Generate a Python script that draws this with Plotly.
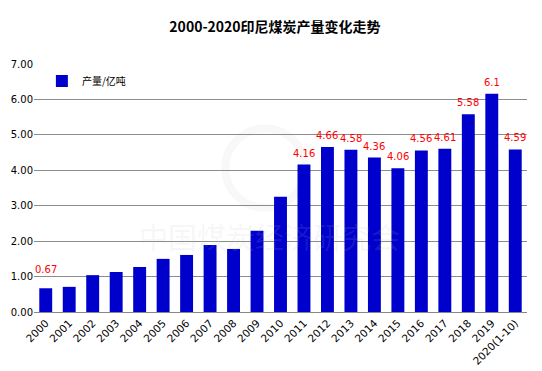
import plotly.graph_objects as go

years = ["2000", "2001", "2002", "2003", "2004", "2005", "2006", "2007", "2008", "2009",
         "2010", "2011", "2012", "2013", "2014", "2015", "2016", "2017", "2018", "2019",
         "2020(1-10)"]
output = [0.67, 0.71, 1.04, 1.13, 1.27, 1.50, 1.61, 1.89, 1.78, 2.29,
          3.25, 4.16, 4.66, 4.58, 4.36, 4.06, 4.56, 4.61, 5.58, 6.16,
          4.59]
labels = ["0.67", "", "", "", "", "", "", "", "", "",
          "", "4.16", "4.66", "4.58", "4.36", "4.06", "4.56", "4.61", "5.58", "6.1",
          "4.59"]
y_ticks = [0, 1, 2, 3, 4, 5, 6, 7]

pos = list(range(len(years)))

fig = go.Figure()
fig.add_trace(go.Bar(
    x=pos, y=output, name="产量/亿吨",
    marker=dict(color="#0000CC", line=dict(width=0)),
))

annotations = []
for i, (v, lab) in enumerate(zip(output, labels)):
    if lab:
        annotations.append(dict(
            x=pos[i], y=v, xref="x", yref="y", text=lab, showarrow=False,
            yanchor="bottom", yshift=4 if i > 0 else 11,
            font=dict(family="DejaVu Sans", size=10, color="#FF0000"),
        ))

# watermark
annotations.append(dict(
    x=0.477, y=0.306, xref="paper", yref="paper", xanchor="center", yanchor="middle",
    text="中国煤炭经济研究会", showarrow=False,
    font=dict(family="Noto Sans CJK SC", size=29, color="rgba(190,190,190,0.12)"),
))

fig.update_layout(
    width=534, height=363,
    margin=dict(l=26, r=15, t=56, b=59, autoexpand=False),
    paper_bgcolor="white", plot_bgcolor="white",
    title=dict(text="<b>2000-2020印尼煤炭产量变化走势</b>", x=0.5, xanchor="center",
               y=0.948, yanchor="middle",
               font=dict(family="Noto Sans CJK SC", size=14, color="black")),
    bargap=0.45,
    showlegend=True,
    legend=dict(x=0.016, y=0.99, xanchor="left", yanchor="top", bgcolor="rgba(0,0,0,0)",
                font=dict(family="Noto Sans CJK SC", size=10, color="black"),
                itemwidth=30),
    xaxis=dict(range=[-0.5, len(years) - 0.5], tickmode="array", tickvals=pos, ticktext=years,
               tickangle=-45, showgrid=False, showline=True, linecolor="#888888",
               automargin=False,
               ticks="", tickfont=dict(family="DejaVu Sans", size=10.5, color="black")),
    yaxis=dict(range=[0, 7], tickvals=y_ticks, tickformat=".2f", showgrid=True,
               gridcolor="#8c8c8c", gridwidth=1, zeroline=False, showline=False,
               automargin=False,
               ticks="", tickfont=dict(family="DejaVu Sans", size=10, color="black")),
    annotations=annotations,
    shapes=[
        dict(type="circle", xref="paper", yref="paper", x0=0.388, x1=0.55, y0=0.42, y1=0.74,
             line=dict(color="rgba(200,200,200,0.12)", width=8), layer="below"),
        dict(type="line", xref="paper", yref="paper", x0=1.0245, x1=1.0245, y0=-0.24, y1=1.23,
             line=dict(color="#999999", width=1.5)),
    ],
)

fig.write_html("out.html")
